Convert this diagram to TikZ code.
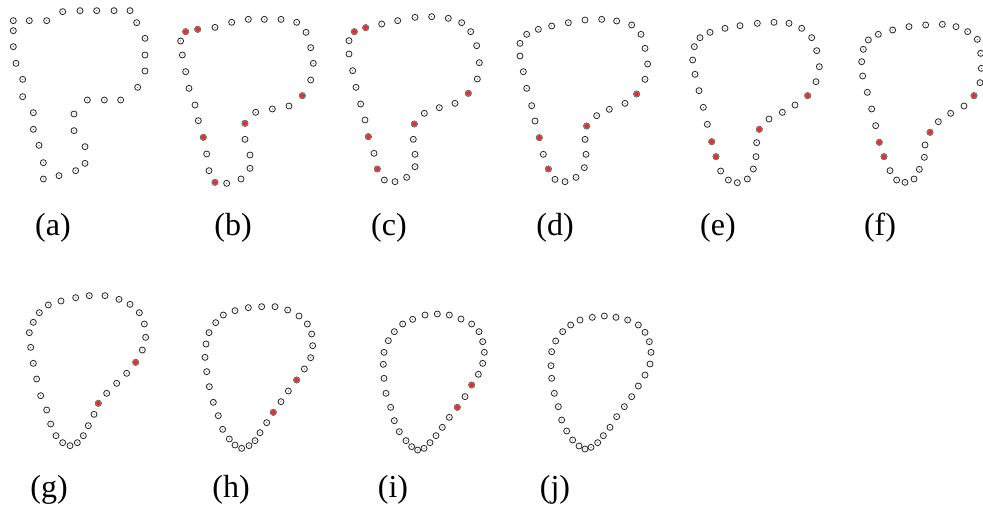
\documentclass[tikz,border=0pt]{standalone}
\usepackage{fontspec}
\setmainfont{Liberation Serif}
\tikzset{
  ring/.style={draw=black!85, line width=0.8pt, fill=white},
  hot/.style={draw=black!50, line width=0.8pt, fill=red!85},
  tag/.style={font=\fontsize{32pt}{36pt}\selectfont, inner sep=0pt}
}
\begin{document}
\begin{tikzpicture}[x=1pt, y=-1pt]
    \useasboundingbox[fill=white] (0,0) rectangle (983,508);

    % (a)
    \begin{scope}
    \foreach \x/\y in {40/62,88/62,140/62,188/35,240/32,290/32,342/32,390/32,410/68,435/115,435/165,435/213,413/262,362/300,313/300,262/300,222/342,222/392,255/440,255/490,227/512,177/527,130/537,130/488,117/436,100/388,100/338,68/290,68/238,48/190,40/140,40/92}
      {\draw[ring] ({\x/3},{\y/3}) circle (3pt); \fill ({\x/3},{\y/3}) circle (0.45pt);}
    \end{scope}

    % (b)
    \begin{scope}[xshift=165pt]
    \foreach \x/\y in {62/95,98/88,150/82,200/67,250/58,298/58,348/58,395/67,423/97,437/143,445/190,437/240,412/287,372/318,322/327,272/337,240/370,240/418,255/465,255/505,228/537,185/550,150/547,132/512,125/462,115/412,100/362,90/315,72/265,62/215,52/165,47/123}
      {\draw[ring] ({\x/3},{\y/3}) circle (3pt); \fill ({\x/3},{\y/3}) circle (0.45pt);}
    \foreach \x/\y in {62/95,98/88,412/287,240/370,115/412,150/547}
      {\draw[hot] ({\x/3},{\y/3}) circle (2.8pt);}
    \end{scope}

    % (c)
    \begin{scope}[xshift=335pt]
    \foreach \x/\y in {58/95,92/83,140/72,188/62,240/52,290/50,340/55,380/68,407/95,425/137,433/188,427/237,400/280,360/310,313/323,268/340,238/372,235/418,240/463,240/500,215/532,180/545,148/540,127/507,117/460,100/410,90/360,77/312,63/262,53/212,42/162,42/122}
      {\draw[ring] ({\x/3},{\y/3}) circle (3pt); \fill ({\x/3},{\y/3}) circle (0.45pt);}
    \foreach \x/\y in {58/95,92/83,400/280,238/372,100/410,127/507}
      {\draw[hot] ({\x/3},{\y/3}) circle (2.8pt);}
    \end{scope}

    % (d)
    \begin{scope}[xshift=500pt]
    \foreach \x/\y in {80/103,115/88,155/78,205/68,255/60,305/58,350/63,395/75,423/103,435/145,443/192,435/238,410/282,375/310,328/328,290/347,260/378,255/418,258/463,253/503,228/532,195/545,165/538,145/507,130/463,118/413,105/363,95/317,80/265,70/215,60/168,60/130}
      {\draw[ring] ({\x/3},{\y/3}) circle (3pt); \fill ({\x/3},{\y/3}) circle (0.45pt);}
    \foreach \x/\y in {410/282,260/378,145/507,118/413}
      {\draw[hot] ({\x/3},{\y/3}) circle (2.8pt);}
    \end{scope}

    % (e)
    \begin{scope}[xshift=660pt]
    \foreach \x/\y in {120/113,150/97,195/85,240/77,292/70,342/67,387/70,425/85,455/113,470/152,478/200,468/245,443/287,405/315,367/337,327/357,298/388,290/428,288/470,280/507,262/537,232/548,205/540,182/513,168/470,155/425,142/373,130/322,117/272,105/223,98/180,103/140}
      {\draw[ring] ({\x/3},{\y/3}) circle (3pt); \fill ({\x/3},{\y/3}) circle (0.45pt);}
    \foreach \x/\y in {443/287,298/388,168/470,155/425}
      {\draw[hot] ({\x/3},{\y/3}) circle (2.8pt);}
    \end{scope}

    % (f)
    \begin{scope}[xshift=820pt]
    \foreach \x/\y in {145/120,175/103,218/90,267/80,317/75,367/73,408/80,443/95,472/118,482/160,484/205,480/248,462/287,432/318,392/340,355/365,330/397,315/435,313/472,298/508,282/537,255/547,230/540,210/512,192/470,178/427,167/377,155/327,142/277,128/228,125/185,130/148}
      {\draw[ring] ({\x/3},{\y/3}) circle (3pt); \fill ({\x/3},{\y/3}) circle (0.45pt);}
    \foreach \x/\y in {462/287,330/397,192/470,178/427}
      {\draw[hot] ({\x/3},{\y/3}) circle (2.8pt);}
    \end{scope}

    % (g)
    \begin{scope}[yshift=-270pt]
    \foreach \x/\y in {118/128,145/105,183/93,227/83,268/77,315/77,357/88,390/103,418/128,433/162,437/202,427/240,407/277,380/310,350/340,320/370,295/400,282/433,265/467,250/497,232/518,210/527,188/518,168/497,152/462,140/420,122/377,110/327,100/280,92/232,88/188,100/157}
      {\draw[ring] ({\x/3},{\y/3}) circle (3pt); \fill ({\x/3},{\y/3}) circle (0.45pt);}
    \foreach \x/\y in {407/277,295/400}
      {\draw[hot] ({\x/3},{\y/3}) circle (2.8pt);}
    \end{scope}

    % (h)
    \begin{scope}[xshift=170pt, yshift=-270pt]
    \foreach \x/\y in {137/158,160/135,195/122,235/113,275/110,315/110,353/120,387/138,412/162,425/192,428/227,422/263,403/297,380/330,355/363,333/395,310/427,290/458,270/488,255/512,237/527,215/535,195/525,178/507,158/478,145/437,130/397,118/350,110/305,105/262,108/222,117/188}
      {\draw[ring] ({\x/3},{\y/3}) circle (3pt); \fill ({\x/3},{\y/3}) circle (0.45pt);}
    \foreach \x/\y in {380/330,310/427}
      {\draw[hot] ({\x/3},{\y/3}) circle (2.8pt);}
    \end{scope}

    % (i)
    \begin{scope}[xshift=345pt, yshift=-270pt]
    \foreach \x/\y in {148/185,173/162,203/148,240/135,277/132,313/135,348/147,380/162,402/185,413/215,418/247,413/280,400/313,380/345,360/380,337/412,313/442,292/472,273/497,255/518,237/535,218/540,200/530,183/512,163/485,148/452,137/412,123/370,117/325,115/283,117/247,130/212}
      {\draw[ring] ({\x/3},{\y/3}) circle (3pt); \fill ({\x/3},{\y/3}) circle (0.45pt);}
    \foreach \x/\y in {380/345,337/412}
      {\draw[hot] ({\x/3},{\y/3}) circle (2.8pt);}
    \end{scope}

    % (j)
    \begin{scope}[xshift=510pt, yshift=-270pt]
    \foreach \x/\y in {158/185,182/165,210/150,247/142,283/138,318/142,353/150,385/165,405/187,418/215,423/247,420/282,405/315,385/348,365/380,343/410,320/440,300/472,280/497,263/518,243/532,225/537,207/528,188/510,170/483,155/450,145/410,133/370,125/325,123/287,125/245,137/213}
      {\draw[ring] ({\x/3},{\y/3}) circle (3pt); \fill ({\x/3},{\y/3}) circle (0.45pt);}
    \end{scope}

    % labels
    \node[tag] (la) at (53,228) {(a)};
    \node[tag] (lb) at (233,228) {(b)};
    \node[tag] (lc) at (389,228) {(c)};
    \node[tag] (ld) at (555,228) {(d)};
    \node[tag] (le) at (718,228) {(e)};
    \node[tag] (lf) at (880,228) {(f)};
    \node[tag] (lg) at (49,490) {(g)};
    \node[tag] (lh) at (231,490) {(h)};
    \node[tag] (li) at (393,490) {(i)};
    \node[tag] (lj) at (555,490) {(j)};
\end{tikzpicture}
\end{document}
